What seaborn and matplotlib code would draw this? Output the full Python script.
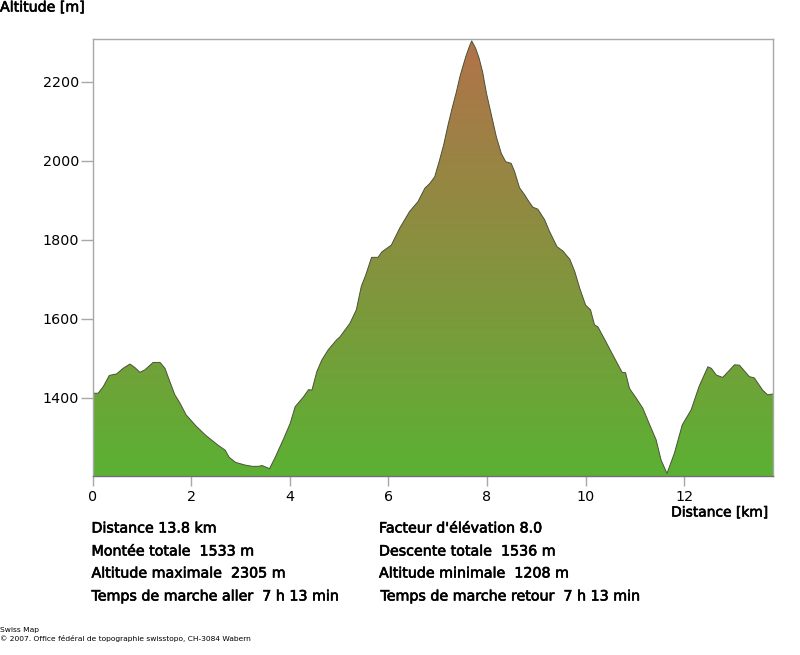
import numpy as np
import pandas as pd
import matplotlib
matplotlib.use("Agg")
import matplotlib.pyplot as plt
import matplotlib.patheffects as pe
from matplotlib.colors import LinearSegmentedColormap
import seaborn as sns

distance_km = [0, .115, .22, .34, .49, .62, .76, .86, .96, 1.06, 1.23, 1.37, 1.47, 1.57, 1.67, 1.77, 1.9, 2.1, 2.3, 2.54,
               2.69, 2.77, 2.9, 3.1, 3.24, 3.37, 3.44, 3.59, 3.71, 3.88, 4.01, 4.11, 4.28, 4.38, 4.45, 4.55, 4.65, 4.78, 4.95,
               5.02, 5.22, 5.35, 5.45, 5.54, 5.66, 5.79, 5.87, 6.06, 6.23, 6.43, 6.60, 6.74, 6.84, 6.94,
               7.04, 7.12, 7.21, 7.30, 7.38, 7.45, 7.51, 7.57, 7.64, 7.69, 7.77, 7.84, 7.91, 7.99, 8.09, 8.19, 8.29, 8.38, 8.49,
               8.56, 8.66, 8.76, 8.83, 8.93, 9.03, 9.17, 9.27, 9.42, 9.54, 9.68, 9.78, 9.88, 10.0, 10.10, 10.18, 10.25,
               10.43, 10.59, 10.74, 10.81, 10.89, 11.03, 11.16, 11.30, 11.43, 11.53, 11.65, 11.80, 11.96, 12.14, 12.30, 12.48, 12.55,
               12.65, 12.78, 13.02, 13.12, 13.32, 13.42, 13.59, 13.69, 13.8]
altitude_m = [1412, 1412, 1429, 1457, 1461, 1475, 1486, 1477, 1465, 1471, 1490, 1490, 1475, 1441, 1408, 1388, 1357, 1329, 1305, 1281,
              1268, 1250, 1237, 1230, 1227, 1227, 1229, 1221, 1251, 1298, 1336, 1378, 1403, 1421, 1420, 1467, 1496, 1522, 1547,
              1555, 1589, 1623, 1682, 1711, 1756, 1756, 1770, 1787, 1830, 1872, 1897, 1931, 1943, 1960,
              2003, 2040, 2091, 2137, 2175, 2213, 2239, 2264, 2289, 2304, 2285, 2260, 2226, 2171, 2116, 2061, 2019, 1998, 1994,
              1973, 1932, 1915, 1901, 1883, 1878, 1851, 1821, 1783, 1772, 1751, 1720, 1678, 1635, 1623, 1585, 1580,
              1538, 1500, 1465, 1464, 1424, 1399, 1374, 1332, 1294, 1243, 1209, 1260, 1332, 1370, 1429, 1479, 1475,
              1458, 1452, 1484, 1483, 1454, 1451, 1420, 1408, 1410]
x_ticks = [0, 2, 4, 6, 8, 10, 12]
y_ticks = [1400, 1600, 1800, 2000, 2200]
stats_left = ["Distance 13.8 km", "Montée totale  1533 m", "Altitude maximale  2305 m", "Temps de marche aller  7 h 13 min"]
stats_right = ["Facteur d'élévation 8.0", "Descente totale  1536 m", "Altitude minimale  1208 m", "Temps de marche retour  7 h 13 min"]
footer = ["Swiss Map", "© 2007. Office fédéral de topographie swisstopo, CH-3084 Wabern"]
gradient_colors = ["#5bb133", "#b2724a"]

W, H = 800, 655
sns.set_theme(style="ticks", rc={"font.family": "DejaVu Sans"})
fig = plt.figure(figsize=(W / 100, H / 100), dpi=100, facecolor="white")
ax = fig.add_axes([92.5 / W, 1 - 476 / H, (773 - 92.5) / W, (476 - 38.5) / H])

df = pd.DataFrame({"d": distance_km, "a": altitude_m})
ymin, ymax = 1202.5, 2310
cmap = LinearSegmentedColormap.from_list("alt", gradient_colors)
im = ax.imshow(np.linspace(0, 1, 256).reshape(-1, 1), cmap=cmap, origin="lower", aspect="auto",
               extent=[0, 13.8, ymin, ymax], zorder=1)
poly = ax.fill_between(df["d"], df["a"], ymin, color="none", linewidth=0)
im.set_clip_path(poly.get_paths()[0], transform=ax.transData)
sns.lineplot(data=df, x="d", y="a", color="#4a5238", linewidth=0.7, ax=ax, zorder=2, legend=False, errorbar=None)
ax.set_xlim(0, 13.8)
ax.set_ylim(ymin, ymax)
ax.set_xticks(x_ticks)
ax.set_yticks(y_ticks)
ax.set_xlabel("")
ax.set_ylabel("")
ax.tick_params(axis="x", length=7, width=1, color="#a8a8a8", labelsize=10.3, labelcolor="black", pad=3)
ax.tick_params(axis="y", length=9, width=1, color="#a8a8a8", labelsize=10.3, labelcolor="black", pad=0.5)
for s in ax.spines.values():
    s.set_color("#a8a8a8")
    s.set_linewidth(1)
ax.spines["bottom"].set_color("#707070")

bold = [pe.withStroke(linewidth=0.45, foreground="black")]
def label(x, y, s, size=10, va="center", ha="left", fx=bold):
    t = fig.text(x / W, 1 - y / H, s, fontsize=size, color="black", va=va, ha=ha)
    if fx:
        t.set_path_effects(fx)
    return t

label(0, 7.5, "Altitude [m]", 10.2)
label(768, 512.5, "Distance [km]", 9.95, ha="right")
for y, l, r, xr in zip([528.5, 551.5, 573.5, 596.5], stats_left, stats_right, [379, 379, 379, 380.5]):
    label(91.5, y, l, 10.25)
    label(xr, y, r, 10.25)
label(0, 630, footer[0], 5.4, fx=None)
label(0, 639, footer[1], 5.4, fx=None)
fig.savefig("out.png", dpi=100, facecolor="white")
